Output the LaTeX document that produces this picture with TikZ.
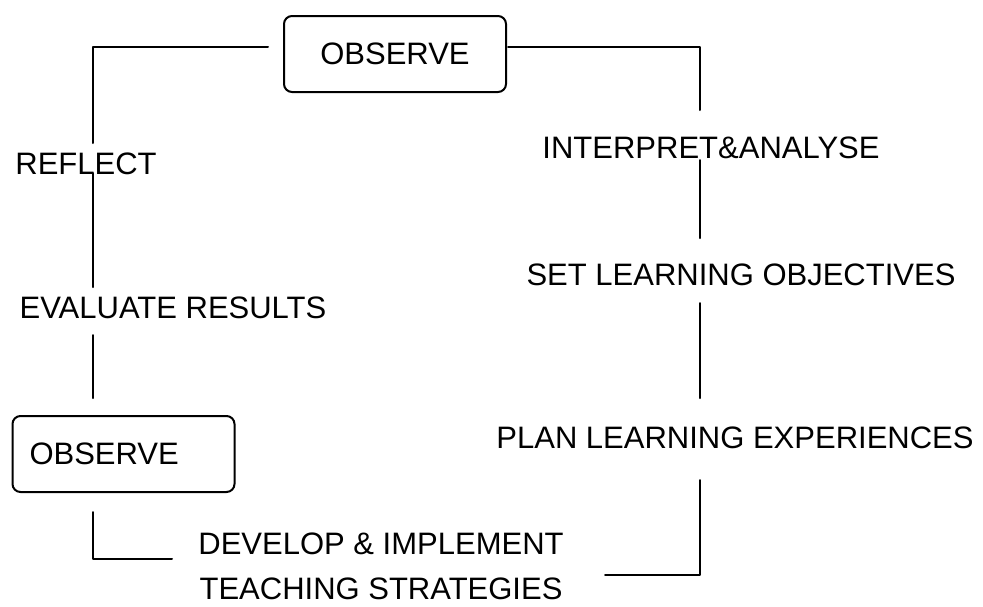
\documentclass[tikz,border=0pt]{standalone}
\usepackage{fontspec}
\setmainfont{Liberation Sans}

\tikzset{
  stage/.style={inner sep=0pt,font=\fontsize{15.5}{22.25}\selectfont},
  obsbox/.style={draw,rounded corners=4pt,line width=1pt,minimum width=111pt,minimum height=38pt,inner sep=0pt,font=\fontsize{15.5}{18}\selectfont},
  link/.style={line width=1pt}
}

\begin{document}
\begin{tikzpicture}[line cap=round,line join=round,x=0.5pt,y=-0.5pt]
      \useasboundingbox (0,0) rectangle (983,606);
      % boxes
      \node[obsbox] (obsA) at (395,54) {OBSERVE};
      \node[obsbox,text width=94pt,align=left,inner xsep=8.5pt] (obsB) at (123.5,454) {OBSERVE};
      % stages
      \node[stage] (reflect) at (86,164) {REFLECT};
      \node[stage] (evalres) at (173,307.5) {EVALUATE RESULTS};
      \node[stage] (interp) at (711,147.5) {INTERPRET\&ANALYSE};
      \node[stage] (setobj) at (741,275) {SET LEARNING OBJECTIVES};
      \node[stage] (planexp) at (735,438) {PLAN LEARNING EXPERIENCES};
      \node[stage,align=center] (develop) at (381,566.5) {DEVELOP \& IMPLEMENT\\TEACHING STRATEGIES};
      % line ends
      \coordinate (obsAleft) at (268,47);
      \coordinate (cornerTL) at (93,47);
      \coordinate (reflectTop) at (93,143);
      \coordinate (reflectBot) at (93,173);
      \coordinate (evalTop) at (93,287);
      \coordinate (evalBot) at (93,335);
      \coordinate (obsBTop) at (93,398);
      \coordinate (obsBBot) at (93,512);
      \coordinate (cornerBL) at (93,559);
      \coordinate (developL) at (172,559);
      \coordinate (obsAright) at (508,47);
      \coordinate (cornerTR) at (700,47);
      \coordinate (interpTop) at (700,110);
      \coordinate (interpBot) at (700,160);
      \coordinate (setobjTop) at (700,238);
      \coordinate (setobjBot) at (700,303);
      \coordinate (planTop) at (700,398);
      \coordinate (planBot) at (700,480);
      \coordinate (cornerBR) at (700,575);
      \coordinate (developR) at (605,575);
      % left side
      \draw[link] (obsAleft) -- (cornerTL) -- (reflectTop);
      \draw[link] (reflectBot) -- (evalTop);
      \draw[link] (evalBot) -- (obsBTop);
      \draw[link] (obsBBot) -- (cornerBL) -- (developL);
      % right side
      \draw[link] (obsAright) -- (cornerTR) -- (interpTop);
      \draw[link] (interpBot) -- (setobjTop);
      \draw[link] (setobjBot) -- (planTop);
      \draw[link] (planBot) -- (cornerBR) -- (developR);
\end{tikzpicture}
\end{document}
